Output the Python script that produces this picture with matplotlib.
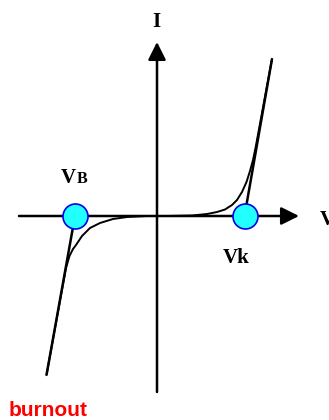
import matplotlib
matplotlib.use("Agg")
import matplotlib.pyplot as plt

# Diode I-V sketch. Units: 1 unit = 10 px of the original image, origin at the axis cross.
V_AXIS = [-13.8, 14.2]
I_AXIS = [-17.6, 17.4]

# breakdown (VB) and knee (Vk) voltages
V_B = -8.2
V_K = 8.75

# ideal piecewise-linear characteristic (outside the circles)
fwd_line_v = [V_K, 11.5]
fwd_line_i = [0.0, 15.7]
rev_line_v = [V_B, -11.05]
rev_line_i = [0.0, -15.9]

fwd_curve_v = [1.0, 3.5, 5.0, 6.0, 6.8, 7.5, 8.0, 8.5, 8.95, 9.3, 9.6, 9.85, 11.5]
fwd_curve_i = [0.0, 0.05, 0.2, 0.4, 0.65, 1.1, 1.6, 2.4, 3.4, 4.5, 5.6, 6.8, 15.7]
rev_curve_v = [-1.0, -3.0, -4.4, -5.7, -6.7, -7.5, -8.1, -8.4, -8.75, -9.1, -11.05]
rev_curve_i = [0.0, -0.1, -0.3, -0.7, -1.2, -2.0, -2.9, -3.3, -4.0, -5.2, -15.9]

fig = plt.figure(figsize=(3.29, 4.20), dpi=100)
ax = fig.add_axes([0, 0, 1, 1])
ax.set_xlim(-15.7, 17.2)
ax.set_ylim(-20.4, 21.6)
ax.axis("off")

# axes with arrow heads
arrow = dict(arrowstyle="-|>,head_length=0.4,head_width=0.2", mutation_scale=27,
             lw=1.8, color="black", shrinkA=0, shrinkB=0)
ax.annotate("", xy=(V_AXIS[1], 0), xytext=(V_AXIS[0], 0), arrowprops=arrow)
ax.annotate("", xy=(0, I_AXIS[1]), xytext=(0, I_AXIS[0]), arrowprops=arrow)

# characteristic
ax.plot(fwd_line_v, fwd_line_i, color="black", lw=1.8, solid_capstyle="butt")
ax.plot(rev_line_v, rev_line_i, color="black", lw=1.8, solid_capstyle="butt")
ax.plot(fwd_curve_v, fwd_curve_i, color="black", lw=1.4)
ax.plot(rev_curve_v, rev_curve_i, color="black", lw=1.4)

ax.plot([V_B, V_K], [0, 0], linestyle="none", marker="o", markersize=18,
        markerfacecolor="#22ffff", markeredgecolor="#0000ee", markeredgewidth=1.2, zorder=5)

serif = dict(family="Liberation Serif", weight="bold", color="black", va="baseline")
ax.text(-0.05, 18.9, "I", ha="center", fontsize=15, **serif)
ax.text(-9.6, 3.3, "V", ha="left", fontsize=15, **serif)
ax.text(-8.0, 3.3, "B", ha="left", fontsize=11.5, **serif)
ax.text(6.6, -4.7, "Vk", ha="left", fontsize=15, **serif)
ax.text(16.3, -0.9, "V", ha="left", fontsize=15, **serif)
ax.text(-14.8, -19.95, "burnout", ha="left", va="baseline", fontsize=15,
        family="Liberation Sans", weight="bold", color="#ff0000")

fig.savefig("out.png", dpi=100)
